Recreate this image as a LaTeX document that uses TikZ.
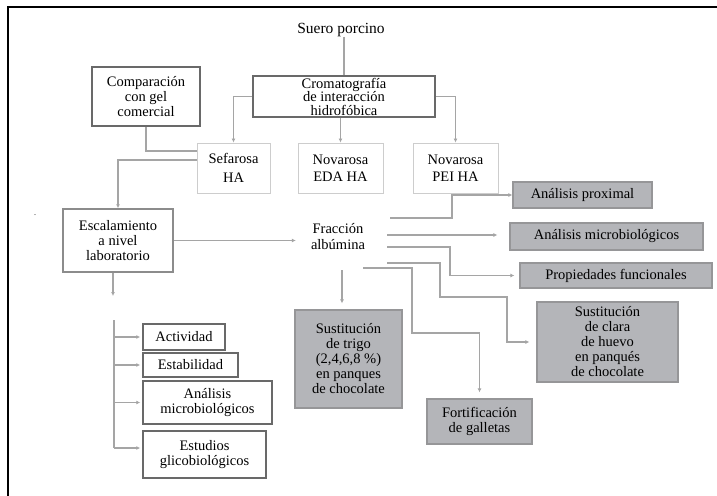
\documentclass[tikz,border=0pt]{standalone}
\usepackage{fontspec}
\setmainfont{Liberation Serif}
\usetikzlibrary{arrows.meta}
\definecolor{bdark}{RGB}{105,105,105}
\definecolor{bmid}{RGB}{140,140,140}
\definecolor{bfaint}{RGB}{205,205,205}
\definecolor{gfill}{RGB}{180,181,185}
\definecolor{gborder}{RGB}{150,150,152}
\definecolor{cline}{RGB}{165,165,165}
\tikzset{
  base/.style={font=\fontsize{14.5}{15}\selectfont, align=center, inner sep=0pt, text=black},
  darkbox/.style={base, draw=bdark, line width=1.5pt, fill=white},
  midbox/.style={base, draw=bmid, line width=1.5pt, fill=white},
  faintbox/.style={base, draw=bfaint, line width=1pt, fill=white},
  graybox/.style={base, draw=gborder, fill=gfill, line width=1.2pt},
  conn/.style={draw=cline, line width=1.2pt},
  arr/.style={conn, -{Latex[length=4pt,width=4pt]}},
}
\begin{document}
\begin{tikzpicture}[x=1pt,y=-1pt]
\useasboundingbox (0,0) rectangle (717,495);
\fill[white] (0,0) rectangle (717,495);
\draw[line width=1.5pt] (8,500) -- (8,7) -- (722,7);

% nodes
\node[base, font=\fontsize{15.5}{16}\selectfont] (suero) at (341,30) {Suero porcino};
\node[darkbox, font=\fontsize{14.5}{13.5}\selectfont, minimum width=182pt, minimum height=41pt] (crom) at (344,96.5) {Cromatografía\\de interacción\\hidrofóbica};
\node[darkbox, minimum width=108pt, minimum height=59pt] (comp) at (146,96.5) {Comparación\\con gel\\comercial};
\node[faintbox, font=\fontsize{14.5}{19}\selectfont, minimum width=73pt, minimum height=50pt] (sef) at (233.5,168) {Sefarosa\\HA};
\node[faintbox, font=\fontsize{14.5}{17}\selectfont, minimum width=85pt, minimum height=50pt] (eda) at (340.5,168) {Novarosa\\EDA HA};
\node[faintbox, font=\fontsize{14.5}{17}\selectfont, minimum width=85pt, minimum height=50pt] (pei) at (455.5,168) {Novarosa\\PEI HA};
\node[midbox, minimum width=110pt, minimum height=63pt] (esc) at (118,240.5) {Escalamiento\\a nivel\\laboratorio};
\node[base, font=\fontsize{14.5}{16}\selectfont] (frac) at (338,237) {Fracción\\albúmina};
\node[base, font=\fontsize{8}{8}\selectfont] (dot) at (35,215) {.};

\node[graybox, minimum width=139pt, minimum height=26pt] (prox) at (582.5,195) {Análisis proximal};
\node[graybox, minimum width=193pt, minimum height=27pt] (micro) at (606.5,236.5) {Análisis microbiológicos};
\node[graybox, minimum width=192pt, minimum height=25pt] (prop) at (616,275.5) {Propiedades funcionales};
\node[graybox, minimum width=141pt, minimum height=80pt] (clara) at (607.5,342) {Sustitución\\de clara\\de huevo\\en panqués\\de chocolate};
\node[graybox, minimum width=105pt, minimum height=45pt] (fort) at (479.5,421.5) {Fortificación\\de galletas};
\node[graybox, minimum width=107pt, minimum height=98pt] (trigo) at (348.5,359) {Sustitución\\de trigo\\(2,4,6,8 \%)\\en panques\\de chocolate};

\node[darkbox, minimum width=82pt, minimum height=26pt] (act) at (184,337) {Actividad};
\node[darkbox, minimum width=95pt, minimum height=24pt] (est) at (190.5,365) {Estabilidad};
\node[darkbox, minimum width=129pt, minimum height=43pt] (anal) at (207.5,402.5) {Análisis\\microbiológicos};
\node[darkbox, minimum width=123pt, minimum height=47pt] (glic) at (204.5,454.5) {Estudios\\glicobiológicos};

% coordinates
\coordinate (escend) at (113,296);
\coordinate (bt) at (114,320);
\coordinate (bb) at (114,448);
\coordinate (fa) at (390,218);
\coordinate (fb) at (387,235);
\coordinate (fc) at (387,247);
\coordinate (fd) at (387,263);
\coordinate (fe) at (363,268);
\coordinate (ff) at (342,270);

% connectors top
\draw[conn] (suero.south -| crom.north) -- (crom.north);
\draw[arr] (crom.west) -| (sef.north);
\draw[arr] (eda.north |- crom.south) -- (eda.north);
\draw[arr] (crom.east) -| (pei.north);
\draw[conn] (comp.south) |- ([yshift=17pt]sef.west);
\draw[arr] ([yshift=8pt]sef.west) -| (esc.north);
\draw[arr, shorten >=15pt] (esc.east) -- (esc.east -| frac.west);
\draw[arr] (esc.south -| escend) -- (escend);

% left bracket
\draw[conn] (bt) -- (bb);
\draw[arr, shorten >=2pt] (bt |- act.west) -- (act.west);
\draw[arr, shorten >=2pt] (bt |- est.west) -- (est.west);
\draw[arr, shorten >=2pt] (bt |- anal.west) -- (anal.west);
\draw[arr, shorten >=2pt] (bb) -- (bb -| glic.west);

% right connectors from Fraccion
\draw[arr] (fa) -- (452,218) |- (prox.west);
\draw[arr, shorten >=12pt] (fb) -- (fb -| micro.west);
\draw[arr, shorten >=5pt] (fc) -- (450,247) |- (prop.west);
\draw[arr, shorten >=7pt] (fd) -- (440,263) -- (440,297) -- (507,297) |- (clara.west);
\draw[arr, shorten >=6pt] (fe) -- (412,268) -- (412,333) -| (fort.north);
\draw[arr, shorten >=6pt] (ff) -- (ff |- trigo.north);
\end{tikzpicture}
\end{document}
